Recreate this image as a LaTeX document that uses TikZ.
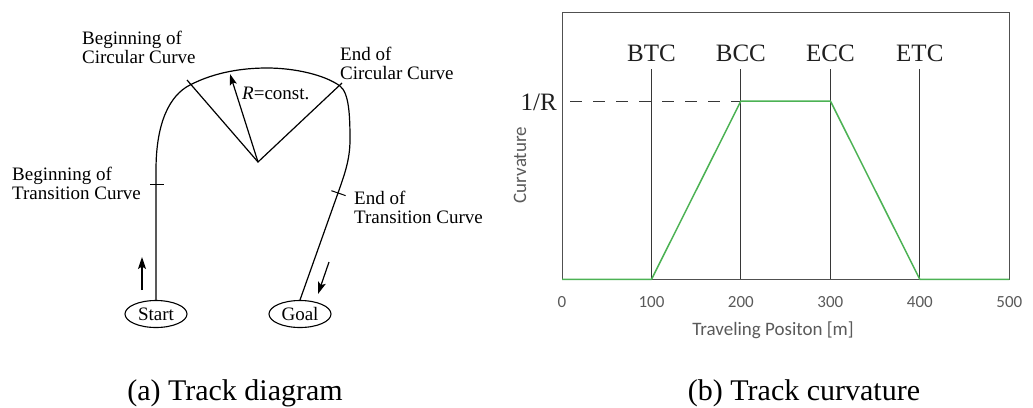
\documentclass[tikz,border=0pt]{standalone}
\usepackage{fontspec}
\setmainfont{Liberation Serif}
\newfontfamily\plotsans{Carlito}
\usetikzlibrary{arrows.meta,shapes.geometric}
\definecolor{framegray}{RGB}{80,80,80}
\definecolor{linegray}{RGB}{55,55,55}
\definecolor{axisgray}{RGB}{90,90,90}
\definecolor{curvegreen}{RGB}{76,178,84}
\begin{document}
\begin{tikzpicture}[x=1pt,y=-1pt,
  track/.style={line width=1.2pt,black},
  thin line/.style={line width=1pt,black},
  endpoint/.style={ellipse,draw,line width=1.1pt,minimum width=62pt,minimum height=27pt,inner sep=0pt,font=\fontsize{19}{19}\selectfont},
  tracklabel/.style={anchor=north west,inner sep=0pt,align=left,font=\fontsize{19}{19}\selectfont},
  dirarrow/.style={line width=1.2pt,-{Stealth[length=12pt,width=8pt,inset=2.5pt]}},
  marklabel/.style={anchor=base,inner sep=0pt,font=\fontsize{25}{25}\selectfont,text=black!88},
  ticklabel/.style={anchor=base,inner sep=0pt,font=\plotsans\fontsize{17}{17}\selectfont,text=axisgray},
  axislabel/.style={inner sep=0pt,font=\plotsans\fontsize{19}{19}\selectfont,text=axisgray},
  caption/.style={anchor=base,inner sep=0pt,font=\fontsize{30}{30}\selectfont}]
\useasboundingbox (0,0) rectangle (1033,407);

% ---------------- (a) track layout ----------------
\node[endpoint] (start) at (156,314) {Start};
\node[endpoint] (goal) at (300,314) {Goal};

\coordinate (btc) at (156,184);
\coordinate (bcc) at (190,85);
\coordinate (ecc) at (340,86);
\coordinate (etc) at (338,193);
\coordinate (ctr) at (258,162);

\draw[track] (start.north) -- (btc) -- (156,170)
  .. controls (156,122) and (170,95) .. (bcc)
  .. controls (215,72) and (243,68) .. (267,68)
  .. controls (295,68) and (325,75) .. (ecc)
  .. controls (349,93) and (350,115) .. (350,140)
  .. controls (350,160) and (344,176) .. (etc)
  -- (goal.north);

% section marks
\draw[thin line] ([xshift=-6pt]btc) -- ([xshift=8pt]btc);
\draw[thin line] ([shift={(-6.6,-2.3)}]etc) -- ([shift={(7.6,2.6)}]etc);

% radii of the circular part
\coordinate (bccend) at (187,80);
\coordinate (eccend) at (342,83);
\coordinate (rtip) at (230,74);
\draw[thin line,line width=1.2pt] (bccend) -- (ctr) -- (eccend);
\draw[line width=1.2pt,-{Stealth[length=11pt,width=7pt,inset=2pt]}] (ctr) -- (rtip);
\node[anchor=base west,inner sep=0pt,font=\fontsize{19}{19}\selectfont] (rlabel) at (242,99) {\textit{R}=const.};

% direction of travel
\coordinate (upA) at (142,290);
\coordinate (upB) at (142,257);
\draw[dirarrow] (upA) -- (upB);
\coordinate (dnA) at (329,262);
\coordinate (dnB) at (318,294);
\draw[dirarrow] (dnA) -- (dnB);

\node[tracklabel] (lbcc) at (82,30.5) {Beginning of\\Circular Curve};
\node[tracklabel] (lecc) at (340,47) {End of\\Circular Curve};
\node[tracklabel] (lbtc) at (12,167) {Beginning of\\Transition Curve};
\node[tracklabel] (letc) at (354,191) {End of\\Transition Curve};

\node[caption] (capa) at (235,400) {(a) Track diagram};

% ---------------- (b) curvature profile ----------------
% x: 0 m -> 562, 500 m -> 1009.3 ; y: 0 -> 279.3, 1/R -> 101
\coordinate (p0) at (562,279.3);
\coordinate (p1) at (651.5,279.3);
\coordinate (p2) at (740.9,279.3);
\coordinate (p3) at (830.4,279.3);
\coordinate (p4) at (919.8,279.3);
\coordinate (p5) at (1009.3,279.3);
\coordinate (k2) at (740.9,101);
\coordinate (k3) at (830.4,101);

\draw[framegray,line width=1pt] (562,12.3) rectangle (1009.3,279.3);

\foreach \p/\t in {p1/BTC,p2/BCC,p3/ECC,p4/ETC}{
  \draw[linegray,line width=1pt] (\p) -- ([yshift=210.3pt]\p);
  \node[marklabel] (m\p) at ([yshift=217.6pt]\p) {\t};
}

\draw[linegray,line width=0.9pt,dash pattern=on 11.5pt off 11.5pt] (570,101) -- (k2);
\node[anchor=base east,inner sep=0pt,font=\fontsize{25}{25}\selectfont,text=black!88] (invr) at (557,110) {1/R};

\draw[curvegreen,line width=1.5pt,line join=round] (p0) -- (p1) -- (k2) -- (k3) -- (p4) -- (p5);

\foreach \p/\v in {p0/0,p1/100,p2/200,p3/300,p4/400,p5/500}{
  \node[ticklabel] (t\p) at ([yshift=-28.2pt]\p) {\v};
}
\node[axislabel,anchor=base] (xlabel) at (773,335) {Traveling Positon [m]};
\node[axislabel,rotate=90] (ylabel) at (520,165) {Curvature};

\node[caption] (capb) at (804,400) {(b) Track curvature};
\end{tikzpicture}
\end{document}
